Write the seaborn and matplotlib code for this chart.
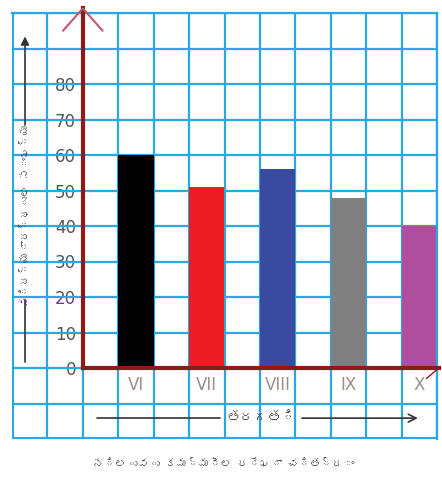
import numpy as np
import pandas as pd
import matplotlib
matplotlib.use("Agg")
import matplotlib.pyplot as plt
from matplotlib.ticker import MultipleLocator, FixedLocator
from matplotlib import font_manager
from matplotlib.ft2font import FT2Font
import seaborn as sns

# ---- data ----
classes = ["VI", "VII", "VIII", "IX", "X"]
students = [60, 51, 56, 48, 40]
bar_colors = ["#000000", "#ed1c24", "#3a4a9e", "#808080", "#b04e9e"]
y_ticks = [0, 10, 20, 30, 40, 50, 60, 70, 80]
y_label = "విద్యార్థుల సంఖ్య"
x_label = "తరగతి"
caption = "నిలువు కమ్మీల రేఖా చిత్రం"


def find_font(ch):
    for fname in font_manager.findSystemFonts():
        try:
            ft = FT2Font(fname)
            if ord(ch) in ft.get_charmap():
                font_manager.fontManager.addfont(fname)
                return font_manager.FontProperties(fname=fname).get_name()
        except Exception:
            pass
    return None


sns.set_theme(style="white")
tel = find_font("త")
tel_family = [tel, "DejaVu Sans"] if tel else ["DejaVu Sans"]
plt.rcParams["font.family"] = ["DejaVu Sans"]

grid_c = "#2aa8e2"
axis_c = "#8b1a1a"

fig = plt.figure(figsize=(4.42, 4.84), dpi=100)
ax = fig.add_axes([12 / 442, 45 / 484, 425 / 442, 426 / 484])

df = pd.DataFrame({
    "pos": 1.5 + 2 * np.arange(len(classes)),
    "students": students,
    "cls": classes,
})
sns.barplot(data=df, x="pos", y="students", hue="cls", palette=bar_colors,
            native_scale=True, width=0.5, legend=False, ax=ax,
            saturation=1, edgecolor="none", linewidth=0)

ax.set_xlim(-2, 10)
ax.set_ylim(-20, 100)

# grid (graph paper)
ax.xaxis.remove_overlapping_locs = False
ax.yaxis.remove_overlapping_locs = False
ax.xaxis.set_minor_locator(MultipleLocator(1))
ax.yaxis.set_minor_locator(MultipleLocator(10))
ax.grid(which="minor", color=grid_c, linewidth=1.6)
ax.grid(which="major", visible=False)
ax.set_axisbelow(True)
ax.tick_params(which="minor", length=0)

# axes spines
for s in ["top", "right"]:
    ax.spines[s].set_color(grid_c)
    ax.spines[s].set_linewidth(1.6)
ax.spines["left"].set_position(("data", 0))
ax.spines["bottom"].set_position(("data", 0))
ax.spines["left"].set_color(axis_c)
ax.spines["bottom"].set_color(axis_c)
ax.spines["left"].set_linewidth(3)
ax.spines["bottom"].set_linewidth(3)
ax.spines["left"].set_bounds(0, 101.3)
ax.spines["bottom"].set_bounds(0, 10.05)
ax.spines["left"].set_zorder(3)
ax.spines["bottom"].set_zorder(3)
for sp in ax.spines.values():
    sp.set_clip_on(False)

# left/bottom outer border lines of the grid paper
ax.axvline(-2, color=grid_c, lw=3, zorder=0.6)
ax.axhline(-20, color=grid_c, lw=3, zorder=0.6)

# ticks
ax.yaxis.set_major_locator(FixedLocator(y_ticks))
ax.set_yticklabels([str(v) for v in y_ticks])
ax.tick_params(axis="y", which="major", length=4, width=1.2, color="#666666",
               labelsize=12, labelcolor="#555555", pad=1, left=True)
ax.set_xticks(df["pos"])
ax.set_xticklabels(classes, fontfamily=["Liberation Sans Narrow", "DejaVu Sans"])
ax.tick_params(axis="x", which="major", length=0, labelsize=12,
               labelcolor="#9c8f8a", pad=6)

ax.set_xlabel("")
ax.set_ylabel("")

# top arrowhead of vertical axis
ax.plot([-0.56, 0, 0.56], [95, 101.3, 95], color="#c8566c", lw=1.5,
        clip_on=False, zorder=4)
# small wing at right end of horizontal axis
ax.plot([10.05, 9.7], [0, -3], color=axis_c, lw=1, clip_on=False, zorder=4)

# y label with arrows
ax.text(13 / 425, 0.526, y_label, transform=ax.transAxes, rotation=90,
        ha="center", va="center", fontsize=8, color="#333333",
        family=tel_family)
ax.annotate("", xy=(13 / 425, 0.945), xytext=(13 / 425, 0.737),
            xycoords="axes fraction",
            arrowprops=dict(arrowstyle="-|>", color="#333333", lw=1.2,
                            mutation_scale=12, shrinkA=0, shrinkB=0))
ax.plot([13 / 425, 13 / 425], [0.181, 0.326], transform=ax.transAxes,
        color="#333333", lw=1.2)

# x label with arrows
ax.text(0.586, 0.049, x_label, transform=ax.transAxes, ha="center",
        va="center", fontsize=10, color="#333333", family=tel_family)
ax.plot([0.200, 0.489], [0.049, 0.049], transform=ax.transAxes,
        color="#333333", lw=1.2)
ax.annotate("", xy=(0.955, 0.049), xytext=(0.682, 0.049),
            xycoords="axes fraction",
            arrowprops=dict(arrowstyle="->", color="#333333", lw=1.2,
                            mutation_scale=14, shrinkA=0, shrinkB=0))

# caption
fig.text(224 / 442, 1 - 463 / 484, caption, ha="center", va="center",
         fontsize=8, color="#333333", family=tel_family)

fig.savefig("out.png", dpi=100)
